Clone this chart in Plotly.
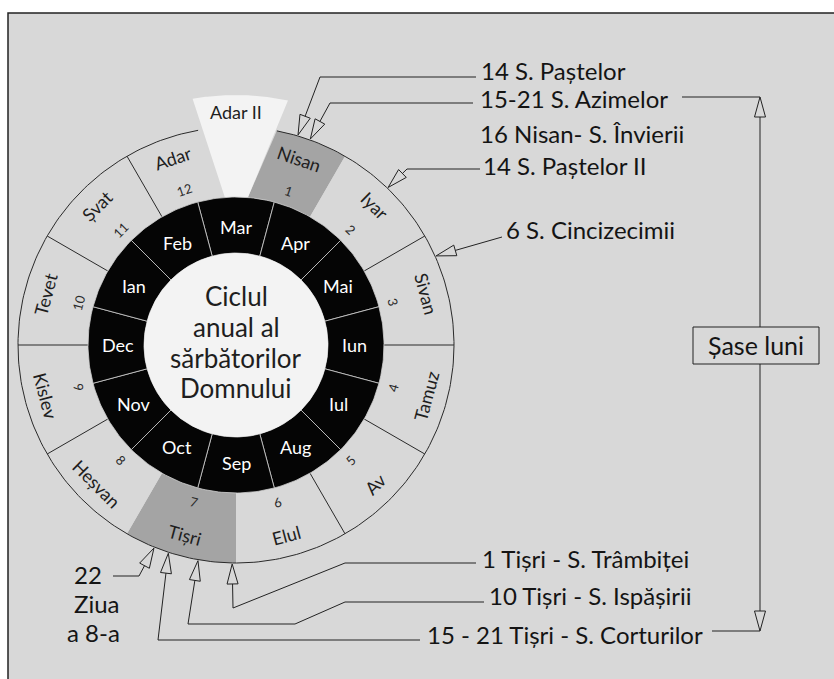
import numpy as np
import plotly.graph_objects as go

# ---------------- data ----------------
hebrew_months = ["Nisan", "Iyar", "Sivan", "Tamuz", "Av", "Elul",
                 "Tișri", "Heșvan", "Kislev", "Tevet", "Șvat", "Adar"]
hebrew_numbers = ["1", "2", "3", "4", "5", "6", "7", "8", "9", "10", "11", "12"]
hebrew_highlight = [True, False, False, False, False, False,
                    True, False, False, False, False, False]
leap_month = "Adar II"
gregorian_months = ["Mar", "Apr", "Mai", "Iun", "Iul", "Aug",
                    "Sep", "Oct", "Nov", "Dec", "Ian", "Feb"]
center_title = ["Ciclul", "anual al", "sărbătorilor", "Domnului"]

feast_labels = ["14 S. Paștelor", "15-21 S. Azimelor", "14 S. Paștelor II",
                "6 S. Cincizecimii", "1 Tișri - S. Trâmbiței",
                "10 Tișri - S. Ispășirii", "15 - 21 Tișri - S. Corturilor", "22"]
feast_month = [0, 0, 1, 2, 6, 6, 6, 6]
feast_day_start = [14, 15, 14, 6, 1, 10, 15, 22]
feast_day_end = [14, 21, 14, 6, 1, 10, 21, 22]
resurrection_note = "16 Nisan- S. Învierii"
eighth_day_note = ["Ziua", "a 8-a"]
span_label = "Șase luni"

# ---------------- geometry / style ----------------
CX, CY = 236, 345          # wheel centre in page pixels
R0, R1, R2, R3 = 92, 148, 218, 250
STEP = 30.0
BG = "#d8d8d8"
GRAY = "#a4a4a4"
LIGHT = "#f3f3f3"
INK = "#141414"
FONT = "Lato"


def P(px, py):
    return (px - CX, CY - py)


def pol(r, th):
    t = np.radians(th)
    return r * np.sin(t), r * np.cos(t)


def arc(r, a0, a1, n=60):
    th = np.linspace(a0, a1, n)
    x, y = pol(r, th)
    return list(x), list(y)


def rot(th):
    th = th % 360
    if th < 90:
        return th
    if th <= 270:
        return th - 180
    return th - 360


fig = go.Figure()

# hebrew month cells (Adar II inserted between Adar and Nisan)
n = len(hebrew_months)
s_in = [STEP * k for k in range(n)]
s_out = [STEP * k for k in range(n)]
e_in = [STEP * (k + 1) for k in range(n)]
e_out = [STEP * (k + 1) for k in range(n)]
s_in[0], s_out[0] = 4.6, 10.8
e_in[-1], e_out[-1] = 355.7, 350.0

for k in range(n):
    xi, yi = arc(R1, s_in[k], e_in[k])
    xo, yo = arc(R2, e_out[k], s_out[k])
    xs = xi + xo + [xi[0]]
    ys = yi + yo + [yi[0]]
    fig.add_trace(go.Scatter(x=xs, y=ys, mode="lines", fill="toself",
                             fillcolor=GRAY if hebrew_highlight[k] else BG,
                             line=dict(width=0, color=BG), hoverinfo="skip"))

# Adar II wedge
xi, yi = arc(R1, -4.3, 4.6, 10)
xo, yo = arc(R3, 12.0, -10.0)
fig.add_trace(go.Scatter(x=xi + xo + [xi[0]], y=yi + yo + [yi[0]], mode="lines",
                         fill="toself", fillcolor=LIGHT, line=dict(width=0, color=LIGHT),
                         hoverinfo="skip"))

# dark outlines of the hebrew ring
xo, yo = arc(R2, s_out[0], e_out[-1], 300)
fig.add_trace(go.Scatter(x=xo, y=yo, mode="lines", line=dict(color="#2a2a2a", width=1),
                         hoverinfo="skip"))
for k in range(n):
    nxt = (k + 1) % n
    if hebrew_highlight[k] or hebrew_highlight[nxt]:
        continue
    a, b = pol(R1, e_in[k])
    c, d = pol(R2, e_out[k])
    fig.add_trace(go.Scatter(x=[a, c], y=[b, d], mode="lines",
                             line=dict(color="#2a2a2a", width=1), hoverinfo="skip"))

# gregorian (black) ring
for k, m in enumerate(gregorian_months):
    a0, a1 = k * STEP - STEP / 2, k * STEP + STEP / 2
    xo, yo = arc(R1, a0, a1, 30)
    xi, yi = arc(R0, a1, a0, 30)
    fig.add_trace(go.Scatter(x=xo + xi + [xo[0]], y=yo + yi + [yo[0]], mode="lines",
                             fill="toself", fillcolor="#050505",
                             line=dict(color="#cfcfcf", width=0.8), hoverinfo="skip"))

# inner white disc
xc, yc = arc(R0, 0, 360, 200)
fig.add_trace(go.Scatter(x=xc, y=yc, mode="lines", fill="toself", fillcolor=LIGHT,
                         line=dict(width=0, color=LIGHT), hoverinfo="skip"))

# ---------------- leaders ----------------
def arrowhead(tip, toward, L=20, W=11):
    tx, ty = tip
    dx, dy = toward[0] - tx, toward[1] - ty
    m = np.hypot(dx, dy)
    dx, dy = dx / m, dy / m
    bx, by = tx + L * dx, ty + L * dy
    px_, py_ = -dy, dx
    c1 = (bx + W / 2 * px_, by + W / 2 * py_)
    c2 = (bx - W / 2 * px_, by - W / 2 * py_)
    fig.add_trace(go.Scatter(x=[tx, c1[0], c2[0], tx], y=[ty, c1[1], c2[1], ty],
                             mode="lines", fill="toself", fillcolor=BG,
                             line=dict(color="#222222", width=1), hoverinfo="skip"))
    return (bx, by)


feast_path = [
    [(320, 77), (476, 77)],
    [(330, 103), (473, 103)],
    [(407, 169), (480, 169)],
    [(502, 237)],
    [(233, 608), (345, 563), (476, 563)],
    [(188, 624), (295, 624), (345, 602), (484, 602)],
    [(158, 640), (420, 640)],
    [(139, 576), (113, 576)],
]
feast_text_pos = [(479, 70), (478, 98), (481, 165), (504, 229),
                  (480, 558), (487, 595), (425, 634), (88, 574)]
feast_anchor = ["left"] * 7 + ["center"]

for i in range(len(feast_labels)):
    k = feast_month[i]
    mid = (feast_day_start[i] + feast_day_end[i]) / 2.0
    start = s_in[k]
    span = e_in[k] - s_in[k]
    th = start + mid / 30.0 * span
    tip = pol(R2 + 1, th)
    pts = [P(*p) for p in feast_path[i]]
    base = arrowhead(tip, pts[0])
    xs = [base[0]] + [p[0] for p in pts]
    ys = [base[1]] + [p[1] for p in pts]
    fig.add_trace(go.Scatter(x=xs, y=ys, mode="lines", line=dict(color="#222222", width=1),
                             hoverinfo="skip"))

# six-month bracket
top_tip, bot_tip = P(760, 97), P(760, 631)
b1 = arrowhead(top_tip, bot_tip)
b2 = arrowhead(bot_tip, top_tip)
fig.add_trace(go.Scatter(x=[b1[0], b2[0]], y=[b1[1], b2[1]], mode="lines",
                         line=dict(color="#222222", width=1), hoverinfo="skip"))
for a, b in [((682, 97), (760, 97)), ((712, 631), (760, 631))]:
    pa, pb = P(*a), P(*b)
    fig.add_trace(go.Scatter(x=[pa[0], pb[0]], y=[pa[1], pb[1]], mode="lines",
                             line=dict(color="#222222", width=1), hoverinfo="skip"))

# ---------------- annotations ----------------
ann = []
for k in range(n):
    th = ((s_in[k] + s_out[k]) / 2 + (e_in[k] + e_out[k]) / 2) / 2
    x, y = pol(197, th)
    ann.append(dict(x=x, y=y, text=hebrew_months[k], textangle=rot(th), showarrow=False,
                    font=dict(family=FONT, size=18, color="#1e1e1e")))
    x, y = pol(163, th)
    ann.append(dict(x=x, y=y, text=hebrew_numbers[k], textangle=rot(th), showarrow=False,
                    font=dict(family=FONT, size=13, color="#2a2a2a")))
x, y = pol(233, 0)
ann.append(dict(x=x, y=y, text=leap_month, showarrow=False,
                font=dict(family=FONT, size=18, color="#1e1e1e")))
for k, m in enumerate(gregorian_months):
    x, y = pol(118, k * STEP)
    ann.append(dict(x=x, y=y, text=m, showarrow=False,
                    font=dict(family=FONT, size=18, color="white")))
for line, py in zip(center_title, [296, 327, 358, 388]):
    x, y = P(236, py)
    ann.append(dict(x=x, y=y, text=line, showarrow=False,
                    font=dict(family=FONT, size=26, color="#1e1e1e")))

for i, lab in enumerate(feast_labels):
    x, y = P(*feast_text_pos[i])
    ann.append(dict(x=x, y=y, text=lab, showarrow=False, xanchor=feast_anchor[i],
                    font=dict(family=FONT, size=24, color=INK)))
x, y = P(478, 133)
ann.append(dict(x=x, y=y, text=resurrection_note, showarrow=False, xanchor="left",
                font=dict(family=FONT, size=24, color=INK)))
for txt, pos in zip(eighth_day_note, [(96, 603), (93, 632)]):
    x, y = P(*pos)
    ann.append(dict(x=x, y=y, text=txt, showarrow=False,
                    font=dict(family=FONT, size=24, color=INK)))
x, y = P(756, 345)
ann.append(dict(x=x, y=y, text=span_label, showarrow=False,
                font=dict(family=FONT, size=25, color=INK)))

bx0, by0 = P(693, 327)
bx1, by1 = P(819, 364)
shapes = [
    dict(type="rect", xref="paper", yref="paper", x0=8 / 834, x1=1.02,
         y0=1 - 13 / 679, y1=-0.02, fillcolor=BG, line=dict(color="#222222", width=1.5),
         layer="below"),
    dict(type="rect", x0=bx0, x1=bx1, y0=by1, y1=by0, fillcolor=BG,
         line=dict(color="#222222", width=1)),
]

fig.update_layout(
    width=834, height=679, margin=dict(l=0, r=0, t=0, b=0),
    paper_bgcolor="white", plot_bgcolor="rgba(0,0,0,0)",
    showlegend=False, hovermode=False,
    xaxis=dict(range=[-CX, 834 - CX], visible=False, fixedrange=True),
    yaxis=dict(range=[CY - 679, CY], visible=False, fixedrange=True),
    annotations=ann, shapes=shapes,
)

fig.write_html("out.html", config={"displayModeBar": False},
               post_script="document.body.style.margin='0';")
